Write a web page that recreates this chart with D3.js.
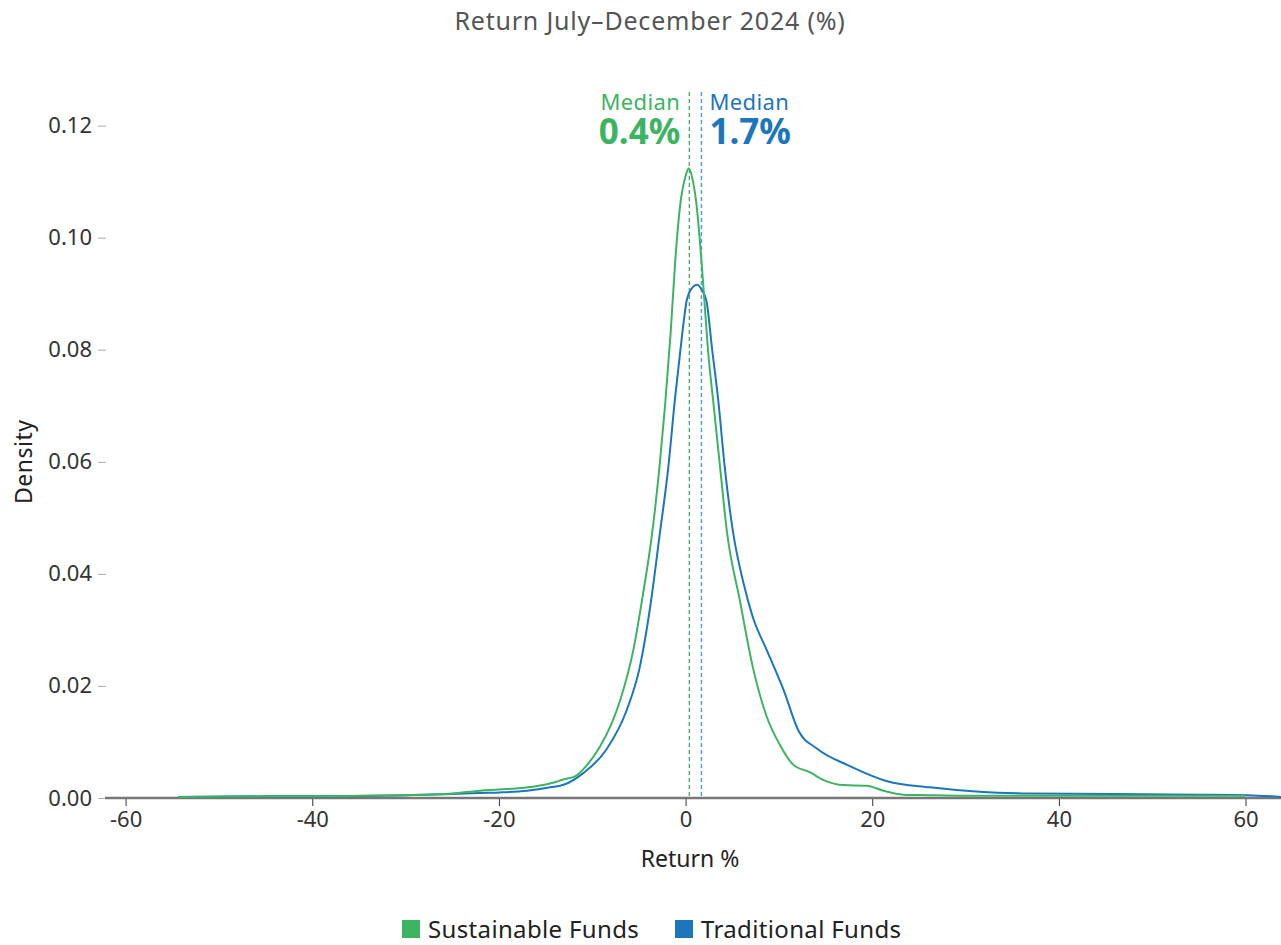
<!DOCTYPE html>
<html>
<head>
<meta charset="utf-8">
<script src="https://cdn.jsdelivr.net/npm/d3@7"></script>
<style>
  html, body { margin: 0; padding: 0; background: #fff; }
  svg { display: block; }
  text { font-family: "Noto Sans", "Open Sans", sans-serif; }
</style>
</head>
<body>
<svg id="chart" width="1281" height="945"></svg>
<script>
// Kernel density estimates of half-year returns (%)
const sustainableX = [-54.4, -45, -40, -35, -30, -25, -22, -20, -16.4, -14, -13.1, -11.9, -10.5, -9.2, -8, -7, -5.6, -4.6, -3.6, -2.8, -2.2, -1.6, -1.1, -0.6, 0.0, 0.35, 0.8, 1.2, 1.65, 2.05, 2.4, 2.95, 3.7, 4.45, 5.8, 7.2, 8.7, 10.1, 11.5, 13.3, 14.8, 16.9, 19.4, 21.2, 23.3, 26, 30, 40, 50, 60];
const sustainableY = [0.0002, 0.0003, 0.0003, 0.0004, 0.0005, 0.0008, 0.0013, 0.0015, 0.0020, 0.0028, 0.0033, 0.0038, 0.0060, 0.0091, 0.0130, 0.0175, 0.0264, 0.0360, 0.0470, 0.0590, 0.0700, 0.0830, 0.0960, 0.1055, 0.1110, 0.1124, 0.1100, 0.1055, 0.0970, 0.0880, 0.0800, 0.0710, 0.0590, 0.0473, 0.0354, 0.0234, 0.0145, 0.0095, 0.0060, 0.0046, 0.0032, 0.0023, 0.0022, 0.0013, 0.0006, 0.0005, 0.0004, 0.0004, 0.0004, 0.0004];

const traditionalX = [-54.4, -45, -40, -30, -25, -22, -19.9, -17, -14.5, -13, -11, -8.5, -6.3, -4.9, -3.8, -2.75, -1.85, -1.15, -0.55, -0.2, 0.1, 0.6, 1.25, 1.8, 2.25, 2.85, 3.5, 4.2, 5.1, 6.2, 7.2, 8.7, 10.5, 12.1, 14.1, 17.6, 21.6, 26.2, 31.5, 36.9, 45.8, 55, 60.2, 63.8];
const traditionalY = [0.0002, 0.0003, 0.0003, 0.0005, 0.0007, 0.0009, 0.0010, 0.0013, 0.0019, 0.0024, 0.0044, 0.0086, 0.0157, 0.0234, 0.0340, 0.0473, 0.0590, 0.0710, 0.0800, 0.0850, 0.0886, 0.0908, 0.0916, 0.0905, 0.0886, 0.0800, 0.0710, 0.0590, 0.0473, 0.0384, 0.0323, 0.0264, 0.0193, 0.0120, 0.0088, 0.0057, 0.0030, 0.0019, 0.0011, 0.0008, 0.0007, 0.0006, 0.0005, 0.0002];

const seriesNames = ["Sustainable Funds", "Traditional Funds"];
const medians = [0.4, 1.7];
const xTicks = [-60, -40, -20, 0, 20, 40, 60];
const yTicks = [0, 0.02, 0.04, 0.06, 0.08, 0.10, 0.12];

const colors = { green: "#3db462", blue: "#1b76bd" };

const svg = d3.select("#chart");
const plot = { left: 106, right: 1281, top: 92, bottom: 798 };

const x = d3.scaleLinear().domain([-62.1, 63.8]).range([plot.left, plot.right]);
const y = d3.scaleLinear().domain([0, 0.126]).range([plot.bottom, plot.top]);

// Title
svg.append("text")
  .attr("x", 650).attr("y", 30)
  .attr("text-anchor", "middle")
  .attr("font-size", 25)
  .attr("letter-spacing", 0.8)
  .attr("fill", "#555")
  .text("Return July\u2013December 2024 (%)");

// Y axis
const yAxis = svg.append("g")
  .attr("transform", `translate(${plot.left},0)`)
  .call(d3.axisLeft(y).tickValues(yTicks).tickFormat(d3.format(".2f")).tickSize(8).tickPadding(6));
yAxis.select(".domain").remove();
yAxis.selectAll(".tick line").attr("stroke", "#aaa");
yAxis.selectAll(".tick text").attr("font-size", 22).attr("fill", "#333")
  .style("font-family", "'Noto Sans', sans-serif");

// X axis
const xAxis = svg.append("g")
  .attr("transform", `translate(0,${plot.bottom})`)
  .call(d3.axisBottom(x).tickValues(xTicks).tickFormat(d => d < 0 ? "-" + Math.abs(d) : String(d)).tickSize(8).tickPadding(5));
xAxis.select(".domain").remove();
xAxis.selectAll(".tick line").attr("stroke", "#333");
xAxis.selectAll(".tick text").attr("font-size", 22).attr("fill", "#333")
  .style("font-family", "'Noto Sans', sans-serif");

// Baseline
svg.append("line")
  .attr("x1", plot.left - 1).attr("x2", plot.right)
  .attr("y1", y(0)).attr("y2", y(0))
  .attr("stroke", "#777").attr("stroke-width", 2.5);

// Axis titles
svg.append("text")
  .attr("transform", `translate(32,${y(0.06)}) rotate(-90)`)
  .attr("text-anchor", "middle")
  .attr("font-size", 23).attr("letter-spacing", 0.5).attr("fill", "#222")
  .text("Density");

svg.append("text")
  .attr("x", 690).attr("y", 867)
  .attr("text-anchor", "middle")
  .attr("font-size", 23).attr("fill", "#222")
  .text("Return %");

// Median reference lines
const medianStyle = [
  { color: "#3a9e5c", anchor: "end", dx: -9, width: 1.2 },
  { color: "#4aa3df", anchor: "start", dx: 8, width: 1.5 }
];
medians.forEach((m, i) => {
  svg.append("line")
    .attr("x1", x(m)).attr("x2", x(m))
    .attr("y1", plot.top).attr("y2", y(0))
    .attr("stroke", medianStyle[i].color)
    .attr("stroke-width", medianStyle[i].width)
    .attr("stroke-dasharray", "4,3");
});

// Density curves
const line = d3.line()
  .x(d => x(d[0]))
  .y(d => y(d[1]))
  .curve(d3.curveMonotoneX);

const sustainable = sustainableX.map((v, i) => [v, sustainableY[i]]);
const traditional = traditionalX.map((v, i) => [v, traditionalY[i]]);

svg.append("path").datum(traditional)
  .attr("d", line).attr("fill", "none")
  .attr("stroke", colors.blue).attr("stroke-width", 2);
svg.append("path").datum(sustainable)
  .attr("d", line).attr("fill", "none")
  .attr("stroke", colors.green).attr("stroke-width", 2);

// Median labels
const labelColors = [colors.green, colors.blue];
medians.forEach((m, i) => {
  const g = svg.append("g").attr("text-anchor", medianStyle[i].anchor);
  g.append("text")
    .attr("x", x(m) + medianStyle[i].dx).attr("y", 110)
    .attr("font-size", 22).attr("letter-spacing", 0.4).attr("fill", labelColors[i])
    .text("Median");
  g.append("text")
    .attr("x", x(m) + medianStyle[i].dx).attr("y", 144)
    .attr("font-size", 35).attr("font-weight", "bold").attr("fill", labelColors[i])
    .text(m.toFixed(1) + "%");
});

// Legend
const legend = svg.append("g");
const legendItems = [
  { name: seriesNames[0], color: colors.green, x: 402 },
  { name: seriesNames[1], color: colors.blue, x: 675 }
];
legendItems.forEach(it => {
  legend.append("rect")
    .attr("x", it.x).attr("y", 920)
    .attr("width", 18).attr("height", 18)
    .attr("fill", it.color);
  legend.append("text")
    .attr("x", it.x + 26).attr("y", 938)
    .attr("font-size", 24).attr("letter-spacing", 0.35).attr("fill", "#222")
    .text(it.name);
});
</script>
</body>
</html>
